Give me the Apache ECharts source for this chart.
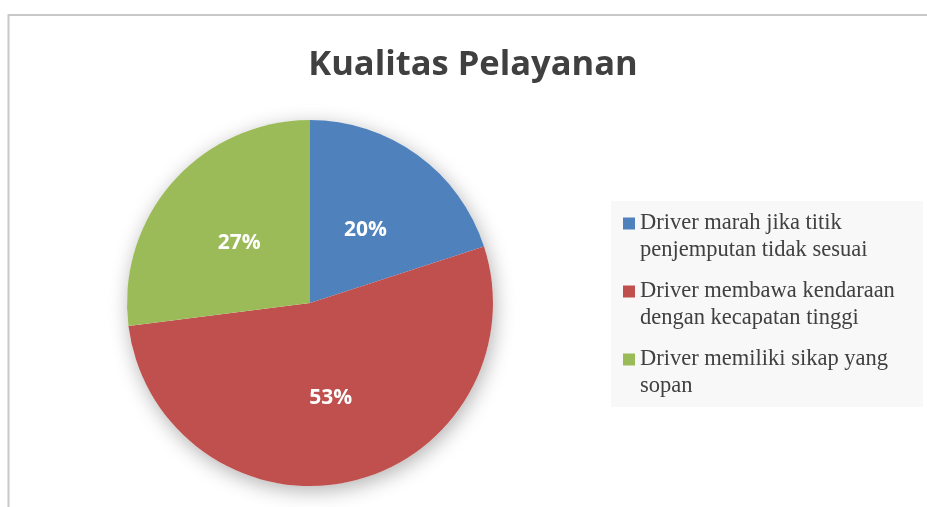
<!DOCTYPE html>
<html>
<head>
<meta charset="utf-8">
<script src="https://cdn.jsdelivr.net/npm/echarts@6/dist/echarts.min.js"></script>
<style>
    html, body { margin: 0; padding: 0; background: #fff; }
    #chart { width: 927px; height: 507px; }
</style>
</head>
<body>
<div id="chart"></div>
<script>
// data
const categories = [
    'Driver marah jika titik penjemputan tidak sesuai',
    'Driver membawa kendaraan dengan kecapatan tinggi',
    'Driver memiliki sikap yang sopan'
];
// legend text, wrapped like the reference
const legendLines = [
    'Driver marah jika titik\npenjemputan tidak sesuai',
    'Driver membawa kendaraan\ndengan kecapatan tinggi',
    'Driver memiliki sikap yang\nsopan'
];
const values = [20, 53, 27];
const colors = ['#4F81BD', '#C0504D', '#9BBB59'];

const chart = echarts.init(document.getElementById('chart'));

const pieData = categories.map((name, i) => ({
    name,
    value: values[i],
    itemStyle: { color: colors[i] }
}));

chart.setOption({
    animation: false,
    backgroundColor: '#fff',
    title: {
        text: 'Kualitas Pelayanan',
        left: 468,
        textAlign: 'center',
        top: 43,
        textStyle: {
            fontFamily: 'Open Sans',
            fontWeight: 'bold',
            fontSize: 34.5,
            color: '#404040'
        }
    },
    graphic: [
        //外框
        {
            type: 'rect',
            shape: { x: 8.5, y: 15, width: 1000, height: 600 },
            style: { fill: 'none', stroke: '#c8c8c8', lineWidth: 2 },
            silent: true
        },
        //图例底色
        {
            type: 'rect',
            shape: { x: 611, y: 201, width: 312, height: 206 },
            style: { fill: '#f8f8f8' },
            silent: true,
            z: -1
        }
    ],
    legend: {
        orient: 'vertical',
        left: 623,
        top: 183,
        padding: 0,
        itemWidth: 12,
        itemHeight: 12,
        itemGap: -13,
        icon: 'rect',
        data: categories,
        // 空的第一行让图标对齐文字第一行
        formatter: name => '\n' + legendLines[categories.indexOf(name)],
        textStyle: {
            fontFamily: 'Liberation Serif',
            fontSize: 22.5,
            lineHeight: 27,
            color: '#404040'
        }
    },
    series: [
        //阴影
        {
            name: 'shadow',
            type: 'pie',
            center: [310, 303],
            radius: 183,
            silent: true,
            label: { show: false },
            labelLine: { show: false },
            data: [{ name: 'shadow', value: 1 }],
            itemStyle: {
                color: '#fff',
                shadowBlur: 20,
                shadowColor: 'rgba(0,0,0,0.3)',
                shadowOffsetX: 2,
                shadowOffsetY: 5
            }
        },
        {
            name: 'Kualitas Pelayanan',
            type: 'pie',
            center: [310, 303],
            radius: 183,
            startAngle: 90,
            clockwise: true,
            silent: true,
            data: pieData,
            itemStyle: { borderWidth: 0 },
            label: {
                show: true,
                position: 'inside',
                formatter: p => p.value + '%',
                fontFamily: 'Open Sans',
                fontWeight: 'bold',
                fontSize: 21,
                color: '#fff'
            },
            labelLayout: { dy: 3 },
            labelLine: { show: false }
        }
    ]
});
</script>
</body>
</html>
